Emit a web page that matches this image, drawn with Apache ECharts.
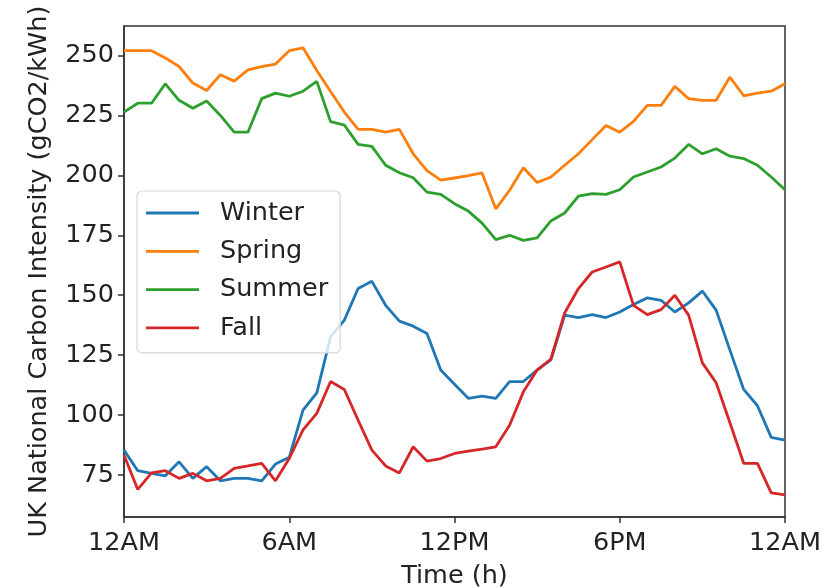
<!DOCTYPE html>
<html>
<head>
<meta charset="utf-8">
<script src="https://cdn.jsdelivr.net/npm/echarts@6/dist/echarts.min.js"></script>
<style>
  html, body { margin: 0; padding: 0; background: #fff; }
  #chart { width: 827px; height: 588px; }
</style>
</head>
<body>
<div id="chart"></div>
<script>
// half-hourly readings, 12AM -> 12AM (49 points)
const winter = [85.4, 76.8, 75.7, 74.7, 80.5, 73.6, 78.5, 72.6, 73.6, 73.6, 72.6, 79.6, 82.4,
  102.1, 109.3, 132.6, 139.6, 152.8, 155.8, 145.8, 139.2, 137.1, 134, 118.8, 112.9, 107,
  107.9, 107, 114, 114, 118.8, 123, 141.7, 140.7, 141.9, 140.7, 143, 146.1, 148.9, 147.9,
  143, 146.8, 151.7, 143.8, 127.1, 110.7, 103.9, 90.7, 89.6];
const spring = [252, 252, 252, 249, 245.4, 238.5, 235.4, 242, 239.3, 244, 245.4, 246.4, 252,
  253.2, 243.7, 235, 226.4, 219.2, 219.2, 218, 219.2, 209, 202, 198, 198.9, 199.9, 201, 186,
  193.8, 203.2, 197, 199.3, 204.2, 209, 214.9, 220.8, 218, 222.5, 229.2, 229.2, 237.1, 232,
  231.3, 231.3, 241, 233.2, 234.3, 235.1, 238.2];
const summer = [226.4, 230.1, 230.1, 238.2, 231.3, 228, 231, 225, 218, 218, 232, 234.3, 233,
  235.1, 239.2, 222.4, 221, 212.9, 212.1, 204.2, 201.1, 199, 193, 192.1, 188.2, 185.1, 180.1,
  173.2, 175, 172.9, 173.9, 181, 184.3, 191.3, 192.4, 192.1, 194, 199.3, 201.4, 203.5, 207.2,
  212.9, 209, 211.1, 208, 207, 204.2, 199.3, 194];
const fall = [83.3, 69, 75.9, 76.8, 73.6, 75.7, 72.6, 73.6, 77.8, 78.8, 79.9, 72.6, 81.9,
  93.8, 100.7, 114, 110.7, 97.9, 85.4, 78.8, 75.9, 86.8, 80.8, 81.9, 84, 85, 85.8, 86.8, 95.8,
  109.7, 118.8, 123.4, 142.6, 152.8, 159.7, 161.8, 163.9, 145.8, 141.9, 144, 150, 141.7,
  121.8, 113.5, 96.8, 79.9, 79.9, 67.6, 66.7];

const seriesNames = ['Winter', 'Spring', 'Summer', 'Fall'];
const seriesColors = ['#1f77b4', '#ff7f0e', '#2ca02c', '#d62728'];
const xTickLabels = ['12AM', '6AM', '12PM', '6PM', '12AM'];
const yTicks = [75, 100, 125, 150, 175, 200, 225, 250];

const hours = winter.map((_, i) => i / 2);
const font = 'DejaVu Sans';
const fs = 25.5;

// legend icon: thin bar in the middle, tiny dots keep the full box height
const lineIcon = 'path://M0,0L0.01,0L0.01,0.01Z M0,10.6L53,10.6L53,13.4L0,13.4Z M0,24L0.01,24L0.01,23.99Z';

const myChart = echarts.init(document.getElementById('chart'));

let option = {
  animation: false,
  textStyle: { fontFamily: font },
  grid: {
    left: 124,
    right: 42,
    top: 26,
    bottom: 71,
    outerBoundsMode: 'none',
    show: true,
    borderColor: '#333',
    borderWidth: 1.5,
    backgroundColor: 'transparent'
  },
  legend: {
    orient: 'vertical',
    left: 137,
    top: 191,
    data: seriesNames,
    icon: lineIcon,
    itemWidth: 53,
    itemHeight: 24,
    itemGap: 12.3,
    padding: [9, 12, 12, 9],
    backgroundColor: 'rgba(255,255,255,0.8)',
    borderColor: '#d6d6d6',
    borderWidth: 1.2,
    borderRadius: 5,
    textStyle: {
      fontFamily: font,
      fontSize: fs,
      color: '#222',
      padding: [0, 0, 0, 16]
    }
  },
  xAxis: {
    type: 'value',
    min: 0,
    max: 24,
    interval: 6,
    name: 'Time (h)',
    nameLocation: 'middle',
    nameGap: 46,
    nameTextStyle: { fontFamily: font, fontSize: fs, color: '#222' },
    axisLine: { lineStyle: { color: '#333', width: 1.5 } },
    axisTick: { show: true, length: 6, lineStyle: { color: '#333', width: 1.5 } },
    axisLabel: {
      fontFamily: font,
      fontSize: fs,
      color: '#222',
      margin: 13,
      formatter: v => xTickLabels[v / 6]
    },
    splitLine: { show: false }
  },
  yAxis: {
    type: 'value',
    min: 57.5,
    max: 262.3,
    name: 'UK National Carbon Intensity (gCO2/kWh)',
    nameLocation: 'middle',
    nameGap: 72,
    nameTextStyle: { fontFamily: font, fontSize: fs, color: '#222' },
    axisLine: { show: true, lineStyle: { color: '#333', width: 1.5 } },
    axisTick: { show: true, length: 6, customValues: yTicks, lineStyle: { color: '#333', width: 1.5 } },
    axisLabel: {
      fontFamily: font,
      fontSize: fs,
      color: '#222',
      margin: 10,
      customValues: yTicks
    },
    splitLine: { show: false }
  },
  series: [winter, spring, summer, fall].map((vals, k) => ({
    name: seriesNames[k],
    type: 'line',
    symbol: 'none',
    color: seriesColors[k],
    lineStyle: { color: seriesColors[k], width: 2.8 },
    data: vals.map((v, i) => [hours[i], v])
  }))
};

myChart.setOption(option);
</script>
</body>
</html>
